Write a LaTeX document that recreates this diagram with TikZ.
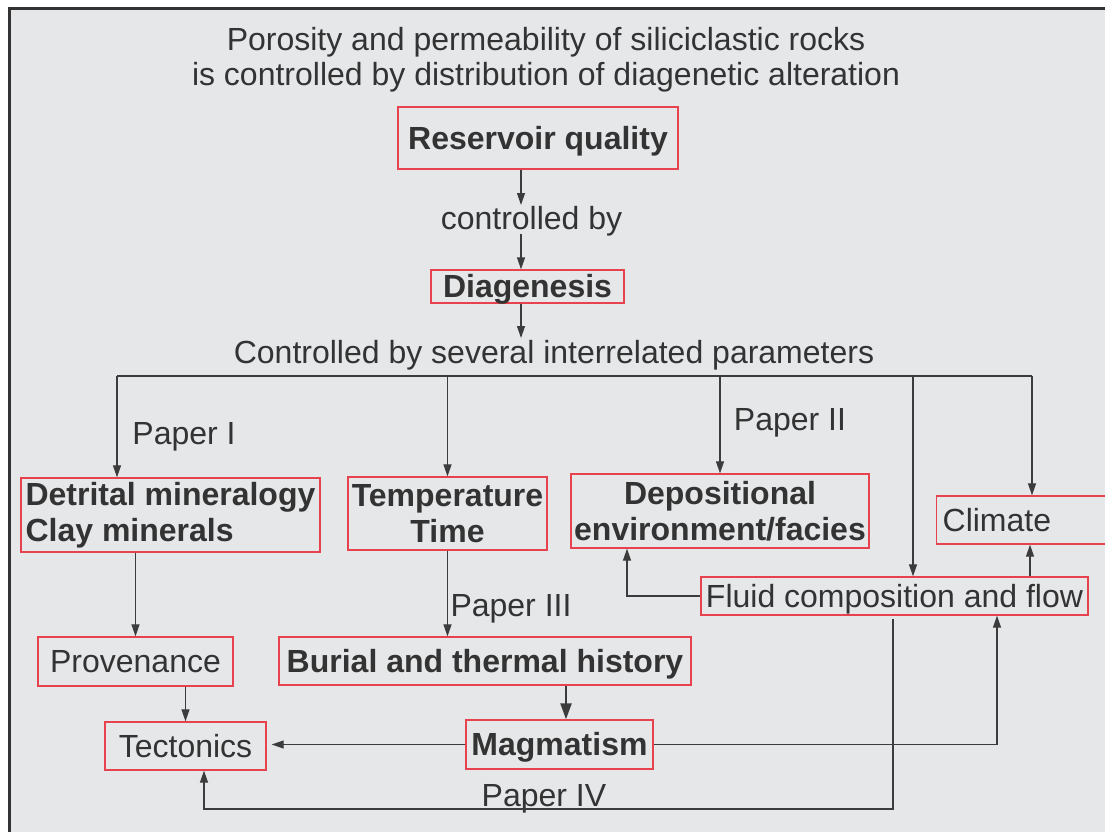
\documentclass[tikz,border=0pt]{standalone}
\usepackage{fontspec}
\setmainfont{Liberation Sans}
\usetikzlibrary{arrows.meta, positioning}
\definecolor{panelgray}{HTML}{E6E7E9}
\definecolor{framegray}{HTML}{333333}
\definecolor{boxred}{HTML}{E8424E}
\definecolor{linegray}{HTML}{3C3C3C}
\definecolor{textgray}{HTML}{333333}

\begin{document}
\begin{tikzpicture}[x=1pt, y=-1pt]
\tikzstyle{plain} = [text=textgray, inner sep=0pt, font=\fontsize{32}{35}\selectfont, align=center];
\tikzstyle{oneline} = [text height=24pt, text depth=1.6pt];
\tikzstyle{box} = [plain, draw=boxred, line width=1.3pt];
\tikzstyle{boldbox} = [box, font=\fontsize{32}{36}\selectfont\bfseries];
\tikzstyle{conn} = [draw=linegray, line width=1.2pt, -{Triangle[length=12pt, width=8pt]}];
\tikzstyle{bigconn} = [draw=linegray, line width=2.2pt, -{Triangle[length=16pt, width=11pt]}];

\useasboundingbox (0,0) rectangle (1105,832);
\clip (0,0) rectangle (1105,832);
\fill[white] (0,0) rectangle (1105,832);
\fill[panelgray] (9,9) rectangle (1110,840);
\draw[framegray, line width=3pt] (9,840) -- (9,9) -- (1110,9);

% headline and main chain
\node[plain](Title) at (546,60) {Porosity and permeability of siliciclastic rocks\\is controlled by distribution of diagenetic alteration};
\node[boldbox, oneline, minimum width=280, minimum height=62](Quality) at (538,138) {Reservoir quality};
\node[plain, oneline](CtrlBy) at (531.5,218) {controlled by};
\node[boldbox, oneline, minimum width=193, minimum height=33](Diagenesis) at (527.5,286.5) {Diagenesis};
\node[plain, oneline](Params) at (554,352) {Controlled by several interrelated parameters};

% parameters
\node[boldbox, align=left, minimum width=299, minimum height=74](Detrital) at (170.5,515) {Detrital mineralogy\\Clay minerals};
\node[boldbox, minimum width=199, minimum height=73](TempTime) at (447.5,513.5) {Temperature\\Time};
\node[boldbox, minimum width=298, minimum height=74](Facies) at (720,511) {Depositional\\environment/facies};
\node[box, oneline, anchor=west, align=left, text width=170, inner xsep=6pt, minimum height=48](Climate) at (936,520) {Climate};
\node[box, oneline, minimum width=387, minimum height=38](Fluid) at (894.5,596) {Fluid composition and flow};
\node[box, oneline, minimum width=195, minimum height=49](Provenance) at (135.5,661.5) {Provenance};
\node[boldbox, oneline, minimum width=412, minimum height=48](Burial) at (485,661) {Burial and thermal history};
\node[box, oneline, minimum width=161, minimum height=48](Tectonics) at (185.5,746) {Tectonics};
\node[boldbox, oneline, minimum width=187, minimum height=49](Magmatism) at (559.5,744.5) {Magmatism};

% paper labels
\node[plain, oneline](PaperI) at (184,433) {Paper I};
\node[plain, oneline](PaperII) at (790,419) {Paper II};
\node[plain, oneline](PaperIII) at (511,605) {Paper III};
\node[plain, oneline](PaperIV) at (544,795) {Paper IV};

% routing points
\coordinate (BusL) at (117,376);
\coordinate (BusR) at (1032,376);
\coordinate (BusF) at (913,376);
\coordinate (BurMag) at (566,0);
\coordinate (MagFl) at (997,0);
\coordinate (FlCl) at (1030,0);
\coordinate (FlFa) at (627,0);
\coordinate (FlTe) at (893,0);
\coordinate (TeIn) at (204,0);
\coordinate (Low) at (0,809);

\draw[conn] (Quality.south -| 521,0) -- (CtrlBy.north -| 521,0);
\draw[conn, shorten <=3pt] (CtrlBy.south -| 521,0) -- (Diagenesis.north -| 521,0);
\draw[conn, shorten >=1pt] (Diagenesis.south -| 521,0) -- (Params.north -| 521,0);

\draw[draw=linegray, line width=1.2pt] (BusL) -- (BusR);
\draw[conn] (BusL) -- (BusL |- Detrital.north);
\draw[conn] (TempTime.north |- BusL) -- (TempTime.north);
\draw[conn] (Facies.north |- BusL) -- (Facies.north);
\draw[conn] (BusF) -- (BusF |- Fluid.north);
\draw[conn] (BusR) -- (BusR |- Climate.north);

\draw[conn] (Provenance.north |- Detrital.south) -- (Provenance.north);
\draw[conn] (TempTime.south) -- (TempTime.south |- Burial.north);
\draw[conn] (Tectonics.north |- Provenance.south) -- (Tectonics.north);
\draw[bigconn] (BurMag |- Burial.south) -- (BurMag |- Magmatism.north);
\draw[conn, shorten >=5pt] (Magmatism.west) -- (Magmatism.west -| Tectonics.east);
\draw[conn] (Magmatism.east) -| (MagFl |- Fluid.south);
\draw[conn] (FlCl |- Fluid.north) -- (FlCl |- Climate.south);
\draw[conn] (Fluid.west) -| (FlFa |- Facies.south);
\draw[conn, shorten <=3pt] (FlTe |- Fluid.south) -- (FlTe |- Low) -| (TeIn |- Tectonics.south);
\end{tikzpicture}
\end{document}
